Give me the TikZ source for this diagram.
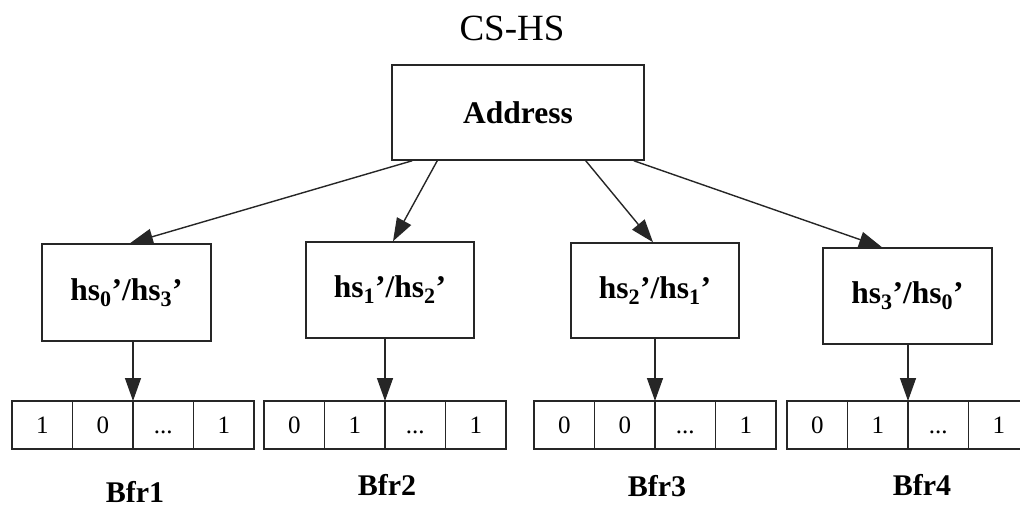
\documentclass[tikz,border=0pt]{standalone}
\usepackage{fontspec}
\setmainfont{Liberation Serif}
\usetikzlibrary{arrows.meta}
\tikzset{
  box/.style={draw=black!85, line width=1.5pt, fill=white, inner sep=0pt,
    font=\fontsize{31.5}{34}\selectfont\bfseries},
  cell/.style={draw=black!85, line width=1.4pt, minimum width=60.5pt,
    minimum height=48pt, inner sep=0pt, outer sep=0pt,
    text height=16.5pt, text depth=0pt,
    font=\fontsize{25}{27}\selectfont},
  arr/.style={line width=1.4pt, draw=black!85,
    -{Triangle[length=23pt,width=16pt]}},
  lbl/.style={font=\fontsize{30}{32}\selectfont\bfseries},
}
% one bit row of a filter: name, left x, first, second and last bit
\newcommand{\bitrow}[5]{%
  \node[cell, anchor=north west] (#1a) at (#2,401) {#3};
  \node[cell, anchor=west] (#1b) at (#1a.east) {#4};
  \node[cell, anchor=west] (#1c) at (#1b.east) {...};
  \node[cell, anchor=west] (#1d) at (#1c.east) {#5};
}
\begin{document}
\begin{tikzpicture}[x=1pt,y=-1pt]
\useasboundingbox (0,0) rectangle (1020,508);

\node[font=\fontsize{37}{40}\selectfont] (title) at (512,28) {CS-HS};
\node[box, minimum width=252pt, minimum height=95pt] (addr) at (518,112.5) {Address};

% hash boxes
\node[box, minimum width=169pt, minimum height=97pt] (h1) at (126.5,292.5)
  {hs\textsubscript{0}’/hs\textsubscript{3}’};
\node[box, minimum width=168pt, minimum height=96pt] (h2) at (390,290)
  {hs\textsubscript{1}’/hs\textsubscript{2}’};
\node[box, minimum width=168pt, minimum height=95pt] (h3) at (655,290.5)
  {hs\textsubscript{2}’/hs\textsubscript{1}’};
\node[box, minimum width=169pt, minimum height=96pt] (h4) at (907.5,296)
  {hs\textsubscript{3}’/hs\textsubscript{0}’};

% filter bit rows
\bitrow{b1}{12}{1}{0}{1}
\bitrow{b2}{264}{0}{1}{1}
\bitrow{b3}{534}{0}{0}{1}
\bitrow{b4}{787}{0}{1}{1}

\node[lbl] (l1) at (135,492) {Bfr1};
\node[lbl] (l2) at (387,485) {Bfr2};
\node[lbl] (l3) at (657,486) {Bfr3};
\node[lbl] (l4) at (922,485) {Bfr4};

% address to hash boxes
\draw[arr] ([xshift=21pt]addr.south west) -- ([xshift=3.5pt]h1.north);
\draw[arr] ([xshift=46pt]addr.south west) -- ([xshift=3pt]h2.north);
\draw[arr] ([xshift=-59pt]addr.south east) -- ([xshift=-2pt]h3.north);
\draw[arr] ([xshift=-11pt]addr.south east) -- ([xshift=-25.5pt]h4.north);

% hash boxes to bit rows
\draw[arr] (h1.south -| b1b.north east) -- (b1b.north east);
\draw[arr] (h2.south -| b2b.north east) -- (b2b.north east);
\draw[arr] (h3.south -| b3b.north east) -- (b3b.north east);
\draw[arr] (h4.south -| b4b.north east) -- (b4b.north east);
\end{tikzpicture}
\end{document}
